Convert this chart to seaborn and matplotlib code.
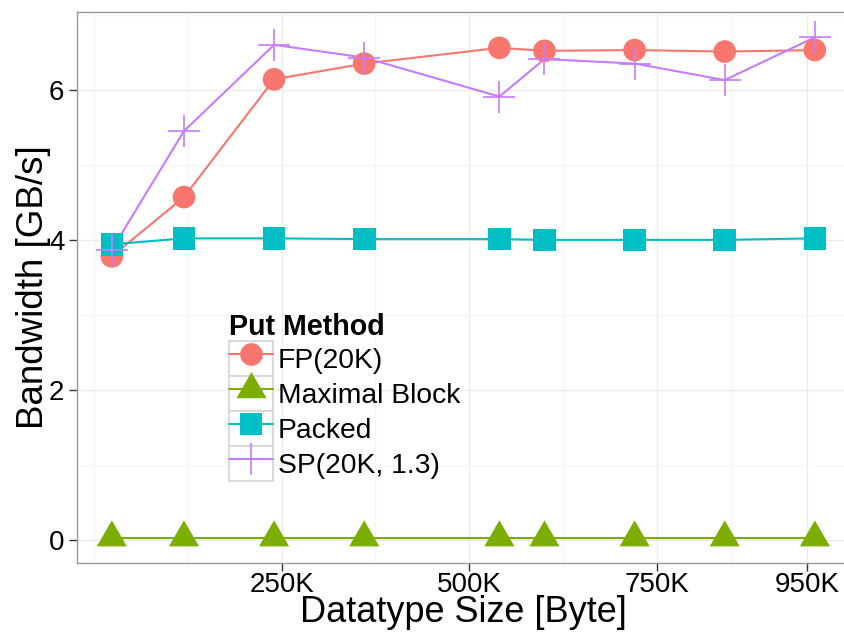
import numpy as np
import pandas as pd
import matplotlib
matplotlib.use("Agg")
import matplotlib.pyplot as plt
from matplotlib.lines import Line2D
from matplotlib.patches import Rectangle
from matplotlib.path import Path
from matplotlib.markers import MarkerStyle
from matplotlib.legend_handler import HandlerLine2D
import seaborn as sns

# ---------------- data ----------------
sizes_k = [24, 120, 240, 360, 540, 600, 720, 840, 960]
methods = ["FP(20K)", "Maximal Block", "Packed", "SP(20K, 1.3)"]
fp = [3.78, 4.57, 6.14, 6.35, 6.56, 6.52, 6.53, 6.51, 6.53]
maximal_block = [0.03, 0.03, 0.03, 0.03, 0.03, 0.03, 0.03, 0.03, 0.03]
packed = [3.94, 4.02, 4.02, 4.01, 4.01, 4.00, 4.00, 4.00, 4.02]
sp = [3.87, 5.45, 6.60, 6.43, 5.91, 6.41, 6.35, 6.13, 6.70]
x_ticks = [250, 500, 750, 950]
x_tick_labels = ["250K", "500K", "750K", "950K"]
y_ticks = [0, 2, 4, 6]
y_tick_labels = ["0", "2", "4", "6"]
colors = ["#F8766D", "#7CAE00", "#00BFC4", "#C77CFF"]

series = {"FP(20K)": fp, "Maximal Block": maximal_block, "Packed": packed, "SP(20K, 1.3)": sp}
df = pd.concat(
    [pd.DataFrame({"size": sizes_k, "bw": vals, "method": m}) for m, vals in series.items()],
    ignore_index=True,
)

# ---------------- style ----------------
sns.set_theme(style="white")
plt.rcParams["font.family"] = ["Liberation Sans", "DejaVu Sans"]
plt.rcParams["text.color"] = "black"

W, H = 844, 635
fig = plt.figure(figsize=(W / 100, H / 100), dpi=100)
left_px, right_px, top_px, bottom_px = 76.7, 850.0, 12.3, 562.7
ax = fig.add_axes([left_px / W, 1 - bottom_px / H, (right_px - left_px) / W, (bottom_px - top_px) / H])

# equilateral triangle centred on its centroid (like R pch 17)
tri = MarkerStyle(Path([(0, 0.577), (-0.5, -0.289), (0.5, -0.289), (0, 0.577)],
                       [Path.MOVETO, Path.LINETO, Path.LINETO, Path.CLOSEPOLY]))
marker_map = {"FP(20K)": "o", "Maximal Block": tri, "Packed": "s", "SP(20K, 1.3)": "+"}
msize_map = {"FP(20K)": 16.3, "Maximal Block": 25.0, "Packed": 16.3, "SP(20K, 1.3)": 23.0}
color_map = dict(zip(methods, colors))

# lines first (ggplot draws geom_line under geom_point)
sns.lineplot(data=df, x="size", y="bw", hue="method", hue_order=methods, palette=colors,
             linewidth=1.5, legend=False, ax=ax, zorder=2, estimator=None)

for m in methods:
    sub = df[df["method"] == m]
    if m == "SP(20K, 1.3)":
        sns.scatterplot(data=sub, x="size", y="bw", color=color_map[m], marker="+",
                        s=msize_map[m] ** 2, linewidth=1.2, ax=ax, zorder=3, legend=False)
    else:
        sns.scatterplot(data=sub, x="size", y="bw", color=color_map[m], marker=marker_map[m],
                        s=msize_map[m] ** 2, linewidth=0, edgecolor="none", ax=ax, zorder=3,
                        legend=False)

# ---------------- scales (ggplot-like 5% expansion) ----------------
xmin, xmax = min(sizes_k), max(sizes_k)
xpad = 0.05 * (xmax - xmin)
ax.set_xlim(xmin - xpad, xmax + xpad)
all_y = fp + maximal_block + packed + sp
ymin, ymax = min(all_y), max(all_y)
ypad = 0.05 * (ymax - ymin)
ax.set_ylim(ymin - ypad, ymax + ypad)

ax.set_xticks(x_ticks, labels=x_tick_labels)
ax.set_yticks(y_ticks, labels=y_tick_labels)
xb = [x_ticks[0] - (x_ticks[1] - x_ticks[0])] + x_ticks
ax.set_xticks([(a + b) / 2 for a, b in zip(xb[:-1], xb[1:])] + [xb[0]], minor=True)
yb = y_ticks + [y_ticks[-1] + (y_ticks[1] - y_ticks[0])]
ax.set_yticks([(a + b) / 2 for a, b in zip(yb[:-1], yb[1:])], minor=True)

ax.set_axisbelow(True)
ax.grid(which="major", color="#EBEBEB", linewidth=1.0)
ax.grid(which="minor", color="#F5F5F5", linewidth=1.0)
for s in ax.spines.values():
    s.set_visible(True)
    s.set_color("#9A9A9A")
    s.set_linewidth(1.0)

ax.tick_params(which="major", direction="out", length=5.5, width=1.0, color="#333333",
               labelsize=20, labelcolor="black", bottom=True, left=True)
ax.tick_params(axis="y", which="major", pad=3.3)
ax.tick_params(axis="x", which="major", pad=1.5)
ax.tick_params(which="minor", length=0)

ax.set_xlabel("Datatype Size [Byte]", fontsize=26, color="black")
ax.set_ylabel("Bandwidth [GB/s]", fontsize=26.5, color="black")
ax.xaxis.set_label_coords(0.5, -0.059)
ax.yaxis.set_label_coords(-0.0335, 0.5)
ax.xaxis.label.set_va("top")


# ---------------- legend ----------------
class BoxedLine(HandlerLine2D):
    def create_artists(self, legend, orig_handle, xdescent, ydescent, width, height, fontsize, trans):
        arts = super().create_artists(legend, orig_handle, xdescent, ydescent, width, height,
                                      fontsize, trans)
        rect = Rectangle((-xdescent, -ydescent), width, height, facecolor="white",
                         edgecolor="#D4D4D4", linewidth=1.2, transform=trans)
        return [rect] + list(arts)


handles = []
for m in methods:
    c = color_map[m]
    if m == "SP(20K, 1.3)":
        h = Line2D([], [], color=c, lw=1.5, marker="+", markersize=msize_map[m],
                   markeredgewidth=1.2, markeredgecolor=c)
    else:
        h = Line2D([], [], color=c, lw=1.5, marker=marker_map[m], markersize=msize_map[m],
                   markeredgewidth=0, markerfacecolor=c)
    handles.append(h)

leg_fs = 20.3
fs_px = leg_fs * 100 / 72
box_h = 35.0
hh = (box_h / fs_px - 0.245) / 0.65
leg = ax.legend(handles, methods, title="Put Method", loc="upper left",
                bbox_to_anchor=(229 / W, 1 - 313 / H), bbox_transform=fig.transFigure,
                frameon=False, fontsize=leg_fs,
                title_fontproperties={"weight": "bold", "size": leg_fs + 0.3},
                handlelength=44 / fs_px, handleheight=hh, labelspacing=0.0,
                handletextpad=5 / fs_px, borderpad=0, borderaxespad=0, alignment="left",
                handler_map={h: BoxedLine() for h in handles})
for t in leg.get_texts():
    t.set_color("black")

fig.savefig("out.png", dpi=100, facecolor="white")
